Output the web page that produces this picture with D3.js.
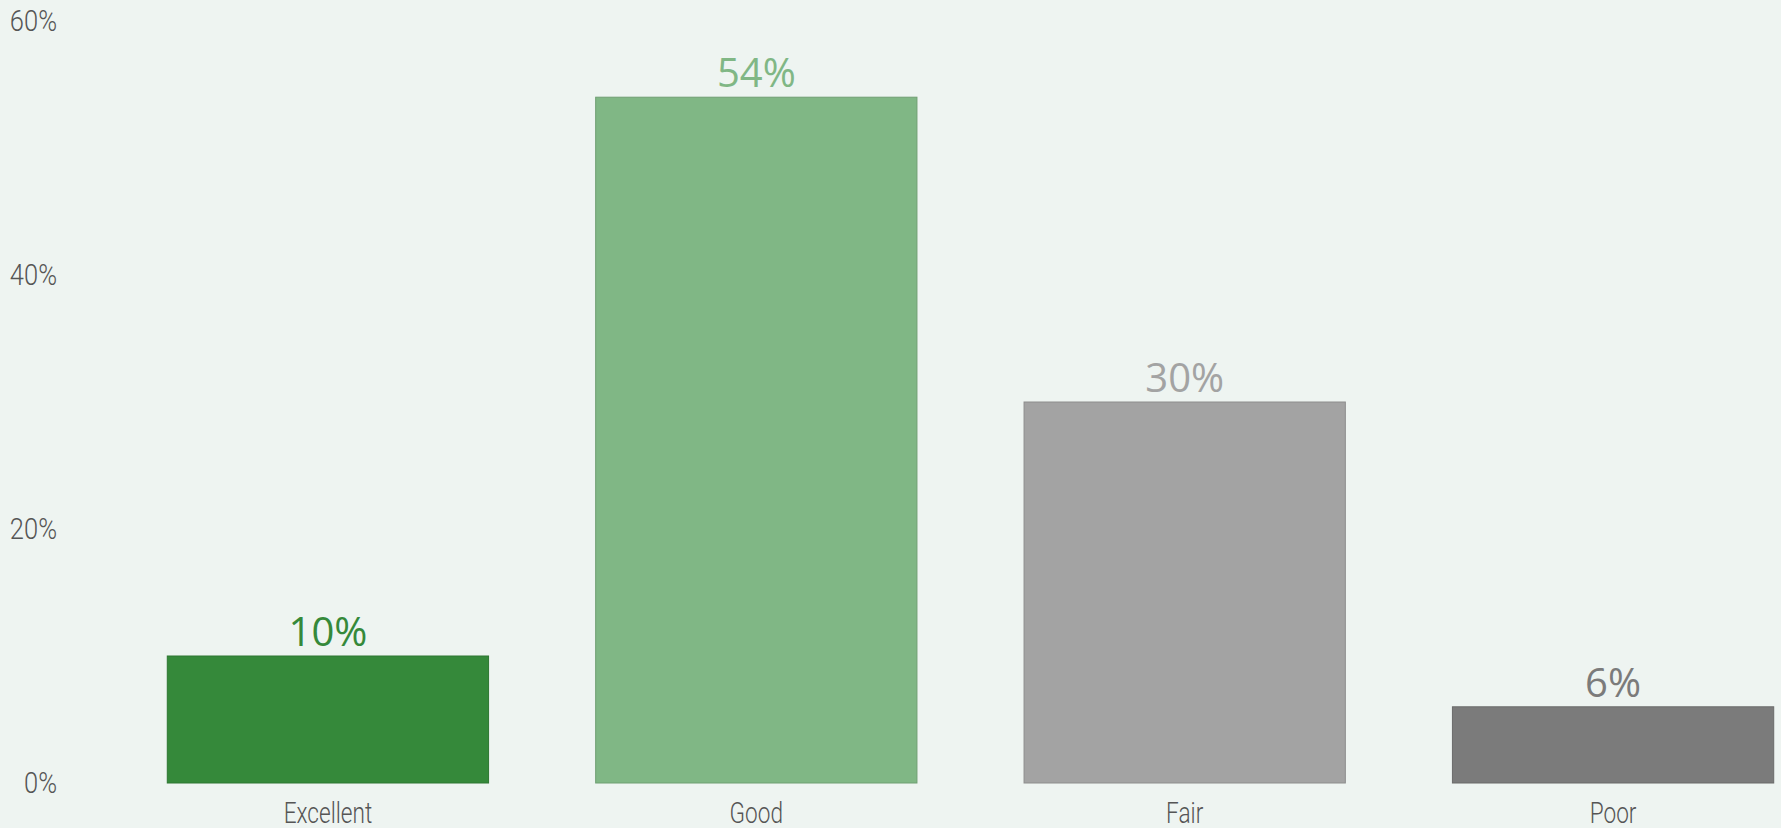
<!DOCTYPE html>
<html>
<head>
<meta charset="utf-8">
<script src="https://cdn.jsdelivr.net/npm/d3@7"></script>
<style>
  html, body { margin: 0; padding: 0; background: #eef4f1; }
  svg { display: block; }
  .axis text { font-family: Roboto, "DejaVu Sans Condensed", sans-serif; font-weight: 300; fill: #555; }
</style>
</head>
<body>
<div id="chart"></div>
<script>
var categories = ["Excellent", "Good", "Fair", "Poor"];
var values = [10, 54, 30, 6];
var yTicks = [0, 20, 40, 60];
var colors = ["#35893a", "#80b785", "#a3a3a3", "#7b7b7b"];

var width = 1781,
    height = 828;

var x = d3.scaleBand()
    .domain(categories)
    .range([160, 1781])
    .paddingInner(0.25)
    .paddingOuter(0.017);

var y = d3.scaleLinear()
    .domain([0, 60])
    .range([783, 21]);

var svg = d3.select("#chart").append("svg")
    .attr("width", width)
    .attr("height", height);

svg.append("rect")
    .attr("width", width)
    .attr("height", height)
    .attr("fill", "#eef4f1");

var data = categories.map(function (c, i) {
    return { cat: c, value: values[i], color: colors[i] };
});

svg.append("g")
    .selectAll("rect")
    .data(data)
    .enter().append("rect")
    .attr("x", function (d) { return x(d.cat); })
    .attr("y", function (d) { return y(d.value); })
    .attr("width", x.bandwidth())
    .attr("height", function (d) { return y(0) - y(d.value); })
    .attr("fill", function (d) { return d.color; })
    .attr("stroke", function (d) { return d3.color(d.color).darker(0.4); })
    .attr("stroke-width", 1);

svg.append("g")
    .selectAll("text")
    .data(data)
    .enter().append("text")
    .attr("x", function (d) { return x(d.cat) + x.bandwidth() / 2; })
    .attr("y", function (d) { return y(d.value) - 10; })
    .attr("text-anchor", "middle")
    .attr("font-family", "Open Sans, sans-serif")
    .attr("font-size", 40)
    .attr("fill", function (d) { return d.color; })
    .text(function (d) { return d.value + "%"; });

// narrow the axis labels a bit, the original uses a condensed face
var yAxis = svg.append("g")
    .attr("class", "axis")
    .attr("transform", "translate(57,0)")
    .call(d3.axisLeft(y).tickValues(yTicks).tickSize(0).tickPadding(0)
        .tickFormat(function (d) { return d + "%"; }));
yAxis.select(".domain").remove();
yAxis.selectAll("text")
    .attr("font-size", 30)
    .attr("transform", "scale(0.85,1)");

var xAxis = svg.append("g")
    .attr("class", "axis")
    .attr("transform", "translate(0,783)")
    .call(d3.axisBottom(x).tickSize(0).tickPadding(19));
xAxis.select(".domain").remove();
xAxis.selectAll("text")
    .attr("font-size", 29)
    .attr("transform", "scale(0.78,1)");
</script>
</body>
</html>
